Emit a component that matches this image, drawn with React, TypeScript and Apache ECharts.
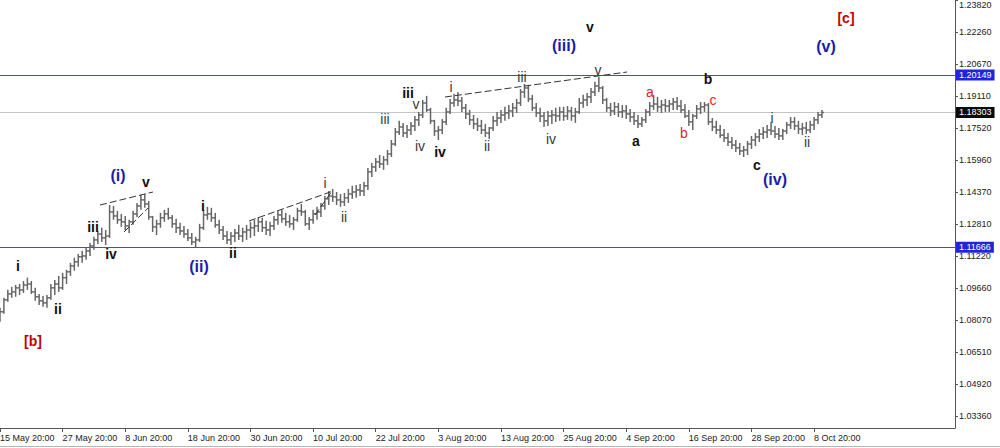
import React, { useEffect, useRef } from "react";
import * as echarts from "echarts";

// ---- data (EUR/USD, 12-hour bars) ----
const tickLabels = [
  "15 May 20:00", "27 May 20:00", "8 Jun 20:00", "18 Jun 20:00", "30 Jun 20:00",
  "10 Jul 20:00", "22 Jul 20:00", "3 Aug 20:00", "13 Aug 20:00", "25 Aug 20:00",
  "4 Sep 20:00", "16 Sep 20:00", "28 Sep 20:00", "8 Oct 20:00",
];
const yTicks = [1.0336, 1.0492, 1.0651, 1.0807, 1.0966, 1.1122, 1.1281, 1.1437, 1.1596, 1.1752, 1.1911, 1.2067, 1.2226, 1.2382];
const yMin = 1.0277;
const yMax = 1.2384;

const firstOpen = 1.081;
const highs = [
  1.0869, 1.0918, 1.0957, 1.0972, 1.0981, 1.0986, 1.1001, 1.1017, 1.1001, 1.0967,
  1.0937, 1.0927, 1.0932, 1.0986, 1.1006, 1.1026, 1.1041, 1.1056, 1.109, 1.1115,
  1.1134, 1.1149, 1.1164, 1.1188, 1.1218, 1.1247, 1.1263, 1.1252, 1.1375, 1.137,
  1.1346, 1.1331, 1.1321, 1.1302, 1.1346, 1.1385, 1.1424, 1.1429, 1.1395, 1.1321,
  1.1302, 1.1336, 1.1351, 1.1361, 1.1326, 1.1307, 1.1287, 1.1272, 1.1257, 1.1237,
  1.1218, 1.1282, 1.1351, 1.1366, 1.1361, 1.1336, 1.1302, 1.1272, 1.1247, 1.1242,
  1.1257, 1.1277, 1.1263, 1.1277, 1.1292, 1.1302, 1.1316, 1.1312, 1.1297, 1.1292,
  1.1321, 1.1346, 1.1351, 1.1336, 1.1326, 1.1316, 1.1361, 1.138, 1.1351, 1.1316,
  1.1351, 1.1366, 1.1385, 1.1419, 1.1444, 1.1454, 1.1439, 1.1429, 1.1434, 1.1454,
  1.1469, 1.1473, 1.1478, 1.1488, 1.1557, 1.1582, 1.1606, 1.1621, 1.1616, 1.1646,
  1.1695, 1.1754, 1.1789, 1.1779, 1.1769, 1.1784, 1.1813, 1.1833, 1.1892, 1.1912,
  1.1853, 1.1794, 1.1764, 1.1798, 1.1853, 1.1897, 1.1922, 1.1931, 1.1907, 1.1872,
  1.1843, 1.1818, 1.1803, 1.1794, 1.1774, 1.1759, 1.1813, 1.1833, 1.1843, 1.1858,
  1.1867, 1.1877, 1.1897, 1.1946, 1.1971, 1.1966, 1.1917, 1.1877, 1.1853, 1.1833,
  1.1838, 1.1843, 1.1853, 1.1858, 1.1858, 1.1862, 1.1858, 1.1853, 1.1902, 1.1917,
  1.1926, 1.1951, 1.1981, 1.2005, 1.1961, 1.1902, 1.1877, 1.1882, 1.1877, 1.1867,
  1.1867, 1.1848, 1.1833, 1.1818, 1.1808, 1.1848, 1.1882, 1.1917, 1.1907, 1.1892,
  1.1897, 1.1892, 1.1902, 1.1907, 1.1892, 1.1872, 1.1843, 1.1823, 1.1867, 1.1882,
  1.1882, 1.1877, 1.1803, 1.1789, 1.1769, 1.1749, 1.1729, 1.171, 1.1695, 1.168,
  1.1665, 1.169, 1.1715, 1.1729, 1.1749, 1.1759, 1.1769, 1.1784, 1.1764, 1.1754,
  1.1749, 1.1784, 1.1808, 1.1808, 1.1789, 1.1779, 1.1784, 1.1789, 1.1808, 1.1833, 1.1843,
];
const lows = [
  1.08, 1.0839, 1.0898, 1.0918, 1.0923, 1.0932, 1.0942, 1.0957, 1.0937, 1.0903,
  1.0883, 1.0874, 1.0869, 1.0908, 1.0932, 1.0947, 1.0957, 1.0986, 1.1026, 1.1051,
  1.1071, 1.109, 1.1105, 1.1124, 1.1154, 1.1183, 1.1193, 1.1178, 1.1213, 1.1302,
  1.1282, 1.1267, 1.1252, 1.1237, 1.1277, 1.1316, 1.1351, 1.1361, 1.1302, 1.1242,
  1.1227, 1.1263, 1.1292, 1.1302, 1.1263, 1.1237, 1.1227, 1.1213, 1.1198, 1.1178,
  1.1168, 1.1193, 1.1252, 1.1302, 1.1292, 1.1263, 1.1232, 1.1203, 1.1183, 1.1178,
  1.1193, 1.1203, 1.1193, 1.1203, 1.1213, 1.1222, 1.1242, 1.1242, 1.1227, 1.1222,
  1.1252, 1.1277, 1.1287, 1.1272, 1.1263, 1.1252, 1.1292, 1.1321, 1.1272, 1.1252,
  1.1282, 1.1302, 1.1316, 1.1351, 1.1375, 1.139, 1.1375, 1.1366, 1.137, 1.1385,
  1.1405, 1.141, 1.1419, 1.1419, 1.1449, 1.1513, 1.1538, 1.1557, 1.1548, 1.1572,
  1.1611, 1.1665, 1.1719, 1.171, 1.1705, 1.1719, 1.1739, 1.1764, 1.1803, 1.1833,
  1.1774, 1.1715, 1.1695, 1.1724, 1.1769, 1.1823, 1.1858, 1.1862, 1.1833, 1.1798,
  1.1769, 1.1749, 1.1739, 1.1724, 1.171, 1.17, 1.1739, 1.1764, 1.1779, 1.1789,
  1.1798, 1.1808, 1.1828, 1.1862, 1.1902, 1.1882, 1.1838, 1.1808, 1.1784, 1.1759,
  1.1764, 1.1774, 1.1784, 1.1789, 1.1789, 1.1794, 1.1789, 1.1779, 1.1823, 1.1853,
  1.1862, 1.1877, 1.1912, 1.1931, 1.1872, 1.1833, 1.1813, 1.1818, 1.1808, 1.1803,
  1.1798, 1.1784, 1.1769, 1.1754, 1.1759, 1.1779, 1.1813, 1.1843, 1.1833, 1.1828,
  1.1833, 1.1833, 1.1843, 1.1843, 1.1828, 1.1803, 1.1764, 1.1744, 1.1798, 1.1823,
  1.1833, 1.1769, 1.1739, 1.1724, 1.1705, 1.1685, 1.1665, 1.1651, 1.1636, 1.1621,
  1.1611, 1.1621, 1.1651, 1.1665, 1.1685, 1.17, 1.1705, 1.1719, 1.1705, 1.1695,
  1.1695, 1.1724, 1.1749, 1.1744, 1.1724, 1.1719, 1.1724, 1.1729, 1.1744, 1.1774, 1.1803,
];
const closes = [
  1.0849, 1.0908, 1.0937, 1.0947, 1.0967, 1.0957, 1.0981, 1.0986, 1.0947, 1.0923,
  1.0903, 1.0893, 1.0918, 1.0967, 1.0986, 1.0967, 1.1017, 1.1046, 1.1075, 1.1095,
  1.112, 1.1124, 1.1149, 1.1173, 1.1203, 1.1232, 1.1213, 1.1222, 1.1341, 1.1321,
  1.1302, 1.1292, 1.1272, 1.1292, 1.1331, 1.137, 1.14, 1.138, 1.1316, 1.1267,
  1.1282, 1.1312, 1.1331, 1.1312, 1.1282, 1.1263, 1.1247, 1.1232, 1.1213, 1.1193,
  1.1203, 1.1263, 1.1326, 1.1331, 1.1312, 1.1277, 1.1252, 1.1222, 1.1203, 1.1222,
  1.1237, 1.1222, 1.1242, 1.1252, 1.1263, 1.1272, 1.1292, 1.1263, 1.1252, 1.1272,
  1.1302, 1.1326, 1.1307, 1.1292, 1.1282, 1.1302, 1.1346, 1.1341, 1.1282, 1.1302,
  1.1331, 1.1341, 1.137, 1.1405, 1.1419, 1.1415, 1.14, 1.139, 1.141, 1.1429,
  1.1439, 1.1449, 1.1444, 1.1469, 1.1538, 1.1562, 1.1587, 1.1577, 1.1597, 1.1626,
  1.1675, 1.1734, 1.1759, 1.1729, 1.1744, 1.1764, 1.1794, 1.1818, 1.1877, 1.1843,
  1.1789, 1.1739, 1.1744, 1.1784, 1.1833, 1.1877, 1.1892, 1.1887, 1.1853, 1.1823,
  1.1794, 1.1774, 1.1764, 1.1744, 1.1729, 1.1754, 1.1789, 1.1803, 1.1818, 1.1828,
  1.1838, 1.1853, 1.1877, 1.1931, 1.1951, 1.1897, 1.1853, 1.1828, 1.1813, 1.1789,
  1.1813, 1.1818, 1.1813, 1.1833, 1.1813, 1.1838, 1.1813, 1.1833, 1.1877, 1.1892,
  1.1907, 1.1931, 1.1961, 1.1951, 1.1892, 1.1853, 1.1838, 1.1858, 1.1833, 1.1838,
  1.1823, 1.1808, 1.1789, 1.1774, 1.1794, 1.1833, 1.1862, 1.1872, 1.1858, 1.1867,
  1.1862, 1.1872, 1.1882, 1.1862, 1.1843, 1.1813, 1.1784, 1.1813, 1.1848, 1.1858,
  1.1867, 1.1784, 1.1759, 1.1744, 1.1719, 1.1705, 1.1685, 1.167, 1.1656, 1.1641,
  1.1646, 1.1675, 1.1695, 1.171, 1.1724, 1.1734, 1.1744, 1.1739, 1.1724, 1.1715,
  1.1739, 1.1769, 1.1784, 1.1764, 1.1749, 1.1754, 1.1744, 1.1769, 1.1794, 1.1818, 1.18303,
];

// horizontal levels
const levelUpper = 1.20149;
const levelLast = 1.18303;
const levelLower = 1.11666;

// Elliott wave annotations: [text, kind]
const waveTexts: [string, string][] = [
  ["[b]", "redBold"], ["i", "bold"], ["ii", "bold"], ["iii", "bold"], ["iv", "bold"], ["v", "bold"],
  ["(i)", "blue"], ["(ii)", "blue"], ["i", "bold"], ["ii", "bold"],
  ["i", "thin"], ["ii", "thin"], ["iii", "thin"], ["iii", "bold"], ["v", "thin"], ["iv", "thin"], ["iv", "bold"],
  ["i", "thin"], ["ii", "thin"], ["iii", "thin"], ["iv", "thin"], ["v", "thin"],
  ["(iii)", "blue"], ["v", "bold"],
  ["a", "red"], ["a", "bold"], ["b", "red"], ["c", "red"], ["b", "bold"], ["c", "bold"], ["(iv)", "blue"],
  ["i", "thin"], ["ii", "thin"], ["(v)", "blue"], ["[c]", "redBold"],
];

// ---- layout (pixels) ----
const waveXY: [number, number][] = [
  [33, 341], [18, 266], [58, 309], [93, 227], [111, 254], [146, 182],
  [118, 175], [199, 266], [203, 206], [233, 253],
  [325, 183], [344, 217], [385, 119], [408, 93], [416, 104], [420, 146], [440, 152],
  [451, 87], [487, 146], [522, 77], [551, 139], [598, 70],
  [564, 45], [590, 27],
  [650, 92], [636, 141], [684, 133], [713, 100], [708, 79], [757, 165], [775, 179],
  [772, 118], [807, 142], [826, 46], [846, 18],
];
const dashSegments: number[][] = [
  [100, 205, 153, 192],
  [124, 232, 148, 208],
  [249, 221, 333, 191],
  [315, 215, 332, 191],
  [445, 97, 627, 72],
];

const FONT = "'Liberation Sans', Arial, sans-serif";
const kindStyle: Record<string, any> = {
  bold: { fontSize: 14, fontWeight: "bold", fill: "#111" },
  thin: { fontSize: 14, fontWeight: "normal", fill: "#3a3a3a" },
  blue: { fontSize: 16, fontWeight: "bold", fill: "#1c1cab" },
  red: { fontSize: 14, fontWeight: "normal", fill: "#d42a2a" },
  redBold: { fontSize: 14, fontWeight: "bold", fill: "#c40000" },
};

const NCAT = 245;

export default function App() {
  const ref = useRef<HTMLDivElement>(null);
  useEffect(() => {
    if (!ref.current) return;
    const chart = echarts.init(ref.current, null, { renderer: "svg" });

    const categories = Array.from({ length: NCAT }, (_, i) =>
      i % 16 === 0 && tickLabels[i / 16] ? tickLabels[i / 16] : "c" + i
    );
    const showTick = (i: number) => i % 16 === 0 && i / 16 < tickLabels.length;

    const data = closes.map((c, i) => {
      const o = i === 0 ? firstOpen : closes[i - 1];
      const l = Math.min(lows[i], o, c);
      const h = Math.max(highs[i], o, c);
      return [i, o, c, l, h];
    });

    const barColor = "#666666";
    const renderItem = (params: any, api: any) => {
      const x = api.value(0);
      const pO = api.coord([x, api.value(1)]);
      const pC = api.coord([x, api.value(2)]);
      const pL = api.coord([x, api.value(3)]);
      const pH = api.coord([x, api.value(4)]);
      const w = 2;
      const st = { stroke: barColor, lineWidth: 1.5 };
      return {
        type: "group",
        children: [
          { type: "line", shape: { x1: pH[0], y1: pH[1], x2: pL[0], y2: pL[1] }, style: st },
          { type: "line", shape: { x1: pO[0] - w, y1: pO[1], x2: pO[0], y2: pO[1] }, style: st },
          { type: "line", shape: { x1: pC[0], y1: pC[1], x2: pC[0] + w, y2: pC[1] }, style: st },
        ],
      };
    };

    const graphics: any[] = [];
    dashSegments.forEach((s) => {
      graphics.push({
        type: "line",
        shape: { x1: s[0], y1: s[1], x2: s[2], y2: s[3] },
        style: { stroke: "#333", lineWidth: 1, lineDash: [7, 3] },
        z: 10,
      });
    });
    waveTexts.forEach(([t, k], i) => {
      const ks = kindStyle[k];
      graphics.push({
        type: "text",
        x: waveXY[i][0],
        y: waveXY[i][1],
        z: 20,
        style: {
          text: t,
          fontFamily: FONT,
          fontSize: ks.fontSize,
          fontWeight: ks.fontWeight,
          fill: ks.fill,
          align: "center",
          verticalAlign: "middle",
          textAlign: "center",
          textVerticalAlign: "middle",
        },
      });
    });
    graphics.push({
      type: "line",
      shape: { x1: 0, y1: 446.5, x2: 1000, y2: 446.5 },
      style: { stroke: "#b5b5b5", lineWidth: 1 },
    });

    const option: any = {
      animation: false,
      backgroundColor: "#ffffff",
      textStyle: { fontFamily: FONT },
      grid: { left: 0, top: 0, right: 45, height: 428, containLabel: false, outerBoundsMode: "none" },
      xAxis: {
        type: "category",
        data: categories,
        boundaryGap: false,
        axisLine: { show: true, lineStyle: { color: "#555", width: 1 } },
        axisTick: { show: true, interval: (i: number) => showTick(i), length: 4, lineStyle: { color: "#555" } },
        axisLabel: {
          interval: (i: number) => showTick(i),
          align: "left",
          fontSize: 9,
          color: "#222",
          margin: 5,
          fontFamily: FONT,
          formatter: (v: string) => (v.startsWith("c") ? "" : v),
        },
        splitLine: { show: false },
      },
      yAxis: {
        type: "value",
        position: "right",
        min: yMin,
        max: yMax,
        axisLine: { show: true, lineStyle: { color: "#555", width: 1 } },
        axisTick: { show: true, length: 3, customValues: yTicks, lineStyle: { color: "#555" } },
        axisLabel: {
          customValues: yTicks,
          formatter: (v: number) => v.toFixed(5),
          fontSize: 9,
          color: "#222",
          margin: 4,
          fontFamily: FONT,
          showMinLabel: true,
          showMaxLabel: true,
          verticalAlignMaxLabel: "top",
        },
        splitLine: { show: false },
      },
      series: [
        {
          type: "custom",
          renderItem,
          data,
          encode: { x: 0, y: [1, 2, 3, 4] },
          clip: true,
          z: 5,
          markLine: {
            symbol: "none",
            silent: true,
            animation: false,
            precision: 5,
            label: {
              show: true,
              position: "end",
              distance: 1,
              fontSize: 9,
              fontFamily: FONT,
              color: "#fff",
              padding: [1, 3, 1, 3],
              formatter: (p: any) => Number(p.value).toFixed(5),
            },
            data: [
              { yAxis: levelUpper, lineStyle: { color: "#4b4f9e", width: 1, type: "solid" }, label: { backgroundColor: "#1f25d8" } },
              { yAxis: levelLast, lineStyle: { color: "#c4c4c4", width: 1, type: "solid" }, label: { backgroundColor: "#0a0a0a" } },
              { yAxis: levelLower, lineStyle: { color: "#4b4f9e", width: 1, type: "solid" }, label: { backgroundColor: "#1f25d8" } },
            ],
          },
        },
      ],
      graphic: { elements: graphics },
    };
    chart.setOption(option);
    return () => chart.dispose();
  }, []);

  return (
    <div
      ref={ref}
      style={{ position: "fixed", left: 0, top: 0, width: 1000, height: 448, background: "#fff" }}
    />
  );
}
